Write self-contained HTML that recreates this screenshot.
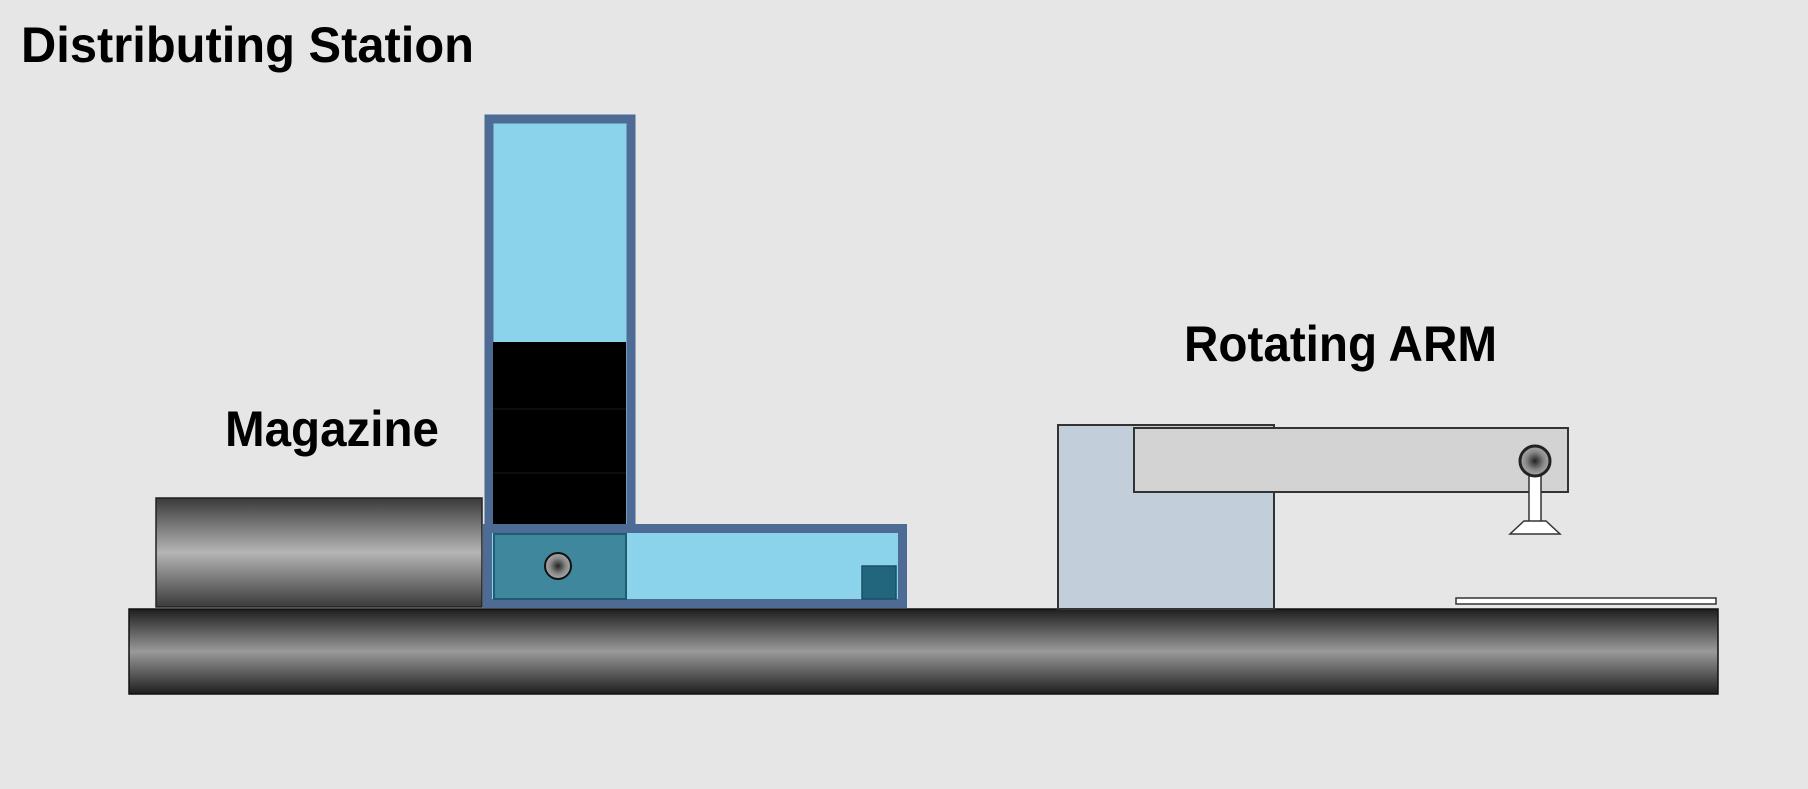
<!DOCTYPE html>
<html><head><meta charset="utf-8"><style>
html,body{margin:0;padding:0;background:#e6e6e6;}
svg{display:block;}
text{font-family:"Liberation Sans",sans-serif;font-weight:bold;fill:#000;}
</style></head><body>
<svg width="1808" height="789" viewBox="0 0 1808 789" xmlns="http://www.w3.org/2000/svg">
<defs>
<linearGradient id="bar" x1="0" y1="0" x2="0" y2="1">
<stop offset="0" stop-color="#1e1e1e"/><stop offset="0.5" stop-color="#9a9a9a"/><stop offset="1" stop-color="#1e1e1e"/>
</linearGradient>
<linearGradient id="mag" x1="0" y1="0" x2="0" y2="1">
<stop offset="0" stop-color="#3a3a3a"/><stop offset="0.5" stop-color="#b5b5b5"/><stop offset="1" stop-color="#3a3a3a"/>
</linearGradient>
<radialGradient id="knob"><stop offset="0" stop-color="#222"/><stop offset="0.6" stop-color="#888"/><stop offset="1" stop-color="#aaa"/></radialGradient>
</defs>
<rect width="1808" height="789" fill="#e6e6e6"/>
<text x="21" y="62" font-size="50" textLength="453" lengthAdjust="spacingAndGlyphs">Distributing Station</text>
<text x="225" y="446" font-size="50" textLength="214" lengthAdjust="spacingAndGlyphs">Magazine</text>
<text x="1184" y="361" font-size="50" textLength="313" lengthAdjust="spacingAndGlyphs">Rotating ARM</text>

<!-- base bar -->
<rect x="129" y="609" width="1589" height="85" fill="url(#bar)" stroke="#111" stroke-width="1.5"/>
<!-- magazine cylinder -->
<rect x="156" y="498" width="326" height="109" fill="url(#mag)" stroke="#222" stroke-width="1.5"/>

<!-- L-shape vertical column -->
<rect x="489" y="119" width="142" height="412" fill="#8bd3ea" stroke="#4e6b96" stroke-width="9"/>
<!-- black blocks -->
<rect x="493" y="342" width="133" height="183" fill="#000"/>
<line x1="493" y1="409" x2="626" y2="409" stroke="#1a1a1a" stroke-width="1"/>
<line x1="493" y1="473" x2="626" y2="473" stroke="#1a1a1a" stroke-width="1"/>
<!-- horizontal part -->
<rect x="487.5" y="528.5" width="415" height="75" fill="#8bd3ea" stroke="#4e6b96" stroke-width="9"/>
<rect x="494" y="534" width="132" height="65" fill="#3f879c" stroke="#1f5c70" stroke-width="2"/>
<circle cx="558" cy="566" r="13" fill="url(#knob)" stroke="#111" stroke-width="2"/>
<rect x="862" y="566" width="34" height="33" fill="#22667e" stroke="#1a5064" stroke-width="1.5"/>

<!-- rotating arm base -->
<rect x="1058" y="425" width="216" height="184" fill="#c2cfdb" stroke="#333" stroke-width="2"/>
<!-- arm -->
<rect x="1134" y="428" width="434" height="64" fill="#d3d3d3" stroke="#333" stroke-width="2"/>
<rect x="1529" y="472" width="12" height="50" fill="#fff" stroke="#333" stroke-width="1.5"/>
<circle cx="1535" cy="461" r="15" fill="url(#knob)" stroke="#222" stroke-width="3"/>
<polygon points="1524,521 1546,521 1560,534 1510,534" fill="#fff" stroke="#333" stroke-width="1.5"/>
<!-- plate -->
<rect x="1456" y="598" width="260" height="6" fill="#fff" stroke="#333" stroke-width="1.5"/>
</svg>
</body></html>
